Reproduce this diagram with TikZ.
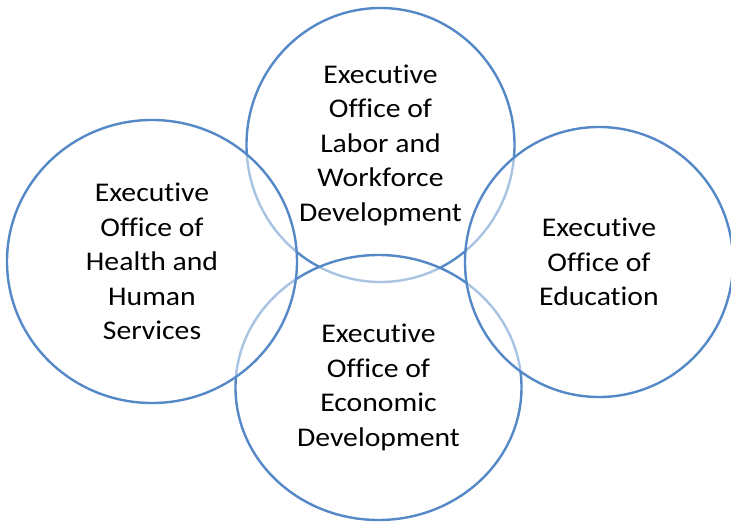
\documentclass[tikz,border=0pt]{standalone}
\usepackage{fontspec}
\setmainfont{Carlito}[FakeStretch=1.1,Ligatures=NoCommon]
\usepackage{tikz}
\usetikzlibrary{
  	shapes,
  	positioning,
  	calc
  }
\definecolor{vennblue}{RGB}{84,136,198}
\tikzstyle{venn}=[ellipse,draw=vennblue,line width=2.4pt,fill=white,fill opacity=0.5,text opacity=1,inner sep=0pt,align=center,font=\fontsize{27}{34.5}\selectfont]

\begin{document}
\begin{tikzpicture}[x=1pt,y=-1pt]
    \useasboundingbox (0,0) rectangle (731,525);
    \node [venn, minimum width=268, minimum height=274] (labor) at (380.5,145) {Executive\\Office of\\Labor and\\Workforce\\Development};
    \path (labor)++(-2,242.5) node [venn, minimum width=286, minimum height=265] (econ) {Executive\\Office of\\Economic\\Development};
    \path (labor)++(-228.5,116.5) node [venn, minimum width=290, minimum height=283] (health) {Executive\\Office of\\Health and\\Human\\Services};
    \path (labor)++(218.5,117) node [venn, minimum width=268, minimum height=270] (edu) {Executive\\Office of\\Education};
    \end{tikzpicture}
\end{document}
